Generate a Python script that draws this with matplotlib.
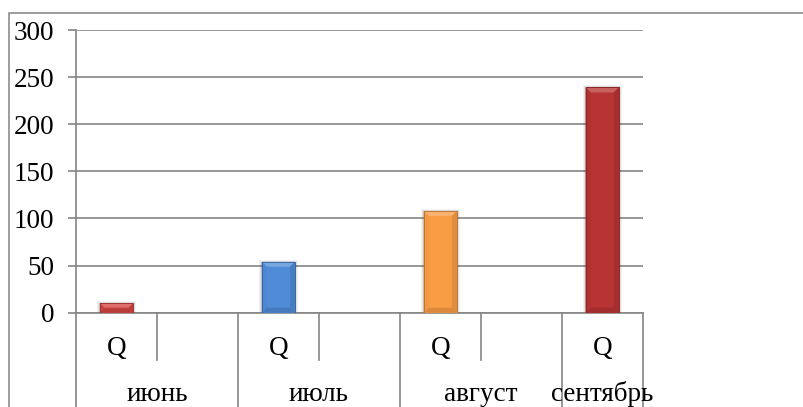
import matplotlib
matplotlib.use("Agg")
import matplotlib.pyplot as plt
from matplotlib.patches import Polygon, Rectangle
from matplotlib.colors import to_rgb
import numpy as np

# Data: two-level category axis (month / sub-category)
months = ["июнь", "июль", "август", "сентябрь"]
sub_labels = ["Q", "", "Q", "", "Q", "", "Q"]
month_of_slot = [0, 0, 1, 1, 2, 2, 3]
values = [10, 54, 108, 239]
bar_slots = [0, 2, 4, 6]
bar_colors = ["#D34542", "#4F8BD6", "#F99D45", "#B83333"]
y_ticks = [0, 50, 100, 150, 200, 250, 300]

W, H = 804, 407
DPI = 100
plt.rcParams["font.family"] = ["Liberation Serif", "DejaVu Serif"]

fig = plt.figure(figsize=(W / DPI, H / DPI), dpi=DPI)
fig.patch.set_facecolor("white")

# chart frame (runs off the right and bottom edges)
fig.add_artist(Rectangle((9 / W, -0.1), 1.2, (H - 13) / H + 0.1,
                         transform=fig.transFigure, fill=False,
                         edgecolor="#8C8C8C", linewidth=1.2, zorder=0))

left, right = 76 / W, 642.7 / W
top, bottom = (H - 30) / H, (H - 312.7) / H
ax = fig.add_axes([left, bottom, right - left, top - bottom])

grid_c = "#858585"
n_slots = len(sub_labels)
ax.set_xlim(-0.5, n_slots - 0.5)
ax.set_ylim(0, 300)
ax.set_yticks(y_ticks)
ax.set_yticklabels([str(t) for t in y_ticks], fontsize=19.5)
ax.tick_params(axis="y", length=5.8, width=1.2, color=grid_c, pad=10,
               labelcolor="black")
ax.set_xticks([])
for s in ["top", "right"]:
    ax.spines[s].set_visible(False)
for s in ["left", "bottom"]:
    ax.spines[s].set_color(grid_c)
    ax.spines[s].set_linewidth(1.2)
ax.yaxis.grid(True, color=grid_c, linewidth=1.2)
ax.set_axisbelow(True)

bar_w = 0.41
bars = ax.bar(bar_slots, values, width=bar_w, color=bar_colors,
              zorder=3, linewidth=0)


def shade(c, f):
    r, g, b = to_rgb(c)
    if f >= 0:
        return (r + (1 - r) * f, g + (1 - g) * f, b + (1 - b) * f)
    return (r * (1 + f), g * (1 + f), b * (1 + f))


# bevel and soft shadow for each bar, built from the bar's own geometry
fig.canvas.draw()
inv = ax.transData.inverted()
for patch, c in zip(bars.patches, bar_colors):
    x0, y0 = patch.get_x(), patch.get_y()
    x1, y1 = x0 + patch.get_width(), y0 + patch.get_height()
    (px0, py0), (px1, py1) = ax.transData.transform([(x0, y0), (x1, y1)])
    b = min(5.0, (py1 - py0) / 2.2)
    # shadow
    for k, a in [(3, 0.05), (2, 0.07), (1, 0.09)]:
        sh = inv.transform([(px0 - k, py0), (px1 + k, py0),
                            (px1 + k, py1 + k - 1), (px0 - k, py1 + k - 1)])
        ax.add_patch(Polygon(sh, closed=True, facecolor="black", alpha=a,
                             linewidth=0, zorder=2))
    pts = {
        "o0": (px0, py0), "o1": (px1, py0), "o2": (px1, py1), "o3": (px0, py1),
        "i0": (px0 + b, py0 + b), "i1": (px1 - b, py0 + b),
        "i2": (px1 - b, py1 - b), "i3": (px0 + b, py1 - b),
    }
    faces = [
        (["o3", "o2", "i2", "i3"], shade(c, 0.22)),   # top
        (["o0", "o3", "i3", "i0"], shade(c, -0.03)),  # left
        (["o1", "o2", "i2", "i1"], shade(c, -0.10)),  # right
        (["o0", "o1", "i1", "i0"], shade(c, -0.12)),  # bottom
    ]
    for keys, fc in faces:
        poly = inv.transform([pts[k] for k in keys])
        ax.add_patch(Polygon(poly, closed=True, facecolor=fc, linewidth=0,
                             zorder=4))
    ax.add_patch(Rectangle((x0, y0), x1 - x0, y1 - y0, fill=False,
                           edgecolor=shade(c, -0.25), linewidth=0.7, zorder=5))

# category axis: separators and labels
trans = ax.get_xaxis_transform()
ax_h_px = (top - bottom) * H
sub_depth = -(360 - 312.7) / ax_h_px
full_depth = -(H - 312.7 + 5) / ax_h_px
for i in range(n_slots + 1):
    xb = i - 0.5
    is_month_edge = (i == 0 or i == n_slots or
                     month_of_slot[i] != month_of_slot[i - 1])
    depth = full_depth if is_month_edge else sub_depth
    ax.plot([xb, xb], [0, depth], transform=trans, color=grid_c,
            linewidth=1.2, clip_on=False, zorder=1)

for i, lab in enumerate(sub_labels):
    if lab:
        ax.annotate(lab, xy=(i, 0), xycoords=trans,
                    xytext=(0, -42 * 0.72), textcoords="offset points",
                    ha="center", va="baseline", fontsize=19.5)

for m, name in enumerate(months):
    slots = [i for i, mm in enumerate(month_of_slot) if mm == m]
    xc = np.mean(slots)
    ax.annotate(name, xy=(xc, 0), xycoords=trans,
                xytext=(0, -88 * 0.72), textcoords="offset points",
                ha="center", va="baseline", fontsize=19.5)

fig.savefig("out.png", dpi=DPI)
